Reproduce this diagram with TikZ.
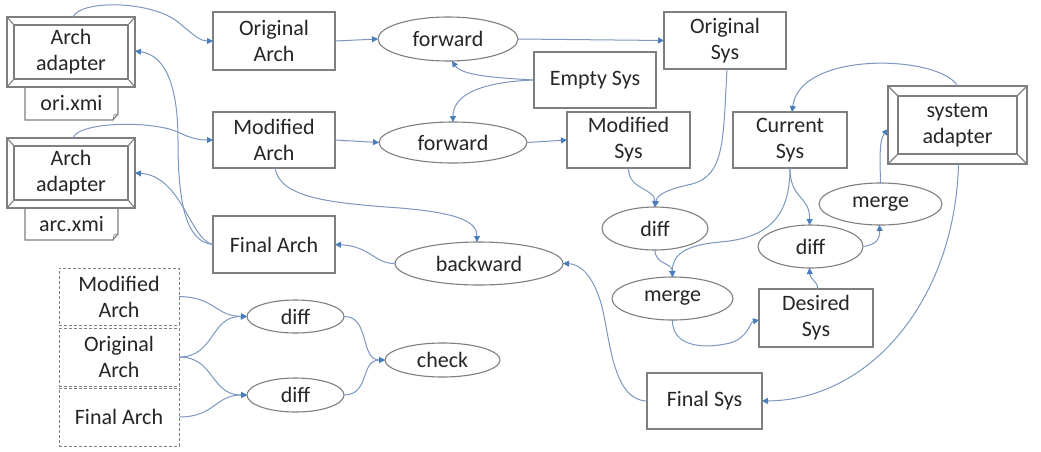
\documentclass[tikz,border=0pt]{standalone}
\usepackage{fontspec}
\setmainfont{Carlito}
\usetikzlibrary{arrows.meta,shapes.geometric}
\definecolor{boxc}{HTML}{7F7F7F}
\definecolor{linec}{HTML}{7D98C0}
\definecolor{arrowc}{HTML}{4A7EBB}
\definecolor{textc}{HTML}{262626}
\tikzset{
  base/.style={inner sep=0pt, outer sep=0pt, align=center, text=textc,
    font=\fontsize{22}{26}\selectfont},
  box/.style={base, draw=boxc, line width=1.1pt, rectangle},
  dbox/.style={base, draw=boxc, line width=1pt, rectangle, dash pattern=on 3pt off 2pt},
  ell/.style={base, draw=boxc, line width=1.1pt, ellipse},
  plain/.style={base, rectangle},
  boxline/.style={draw=boxc, line width=1.1pt},
  conn/.style={draw=linec, line width=1pt,
    -{Triangle[length=6pt,width=6pt,color=arrowc]}},
}
\newcommand\bevelbox[3]{%
  \draw[boxline] ([xshift=#2,yshift=-#3]#1.north west) rectangle ([xshift=-#2,yshift=#3]#1.south east);
  \draw[boxline] (#1.north west) -- ([xshift=#2,yshift=-#3]#1.north west)
    (#1.north east) -- ([xshift=-#2,yshift=-#3]#1.north east)
    (#1.south west) -- ([xshift=#2,yshift=#3]#1.south west)
    (#1.south east) -- ([xshift=-#2,yshift=#3]#1.south east);}
\newcommand\docshape[1]{%
  \draw[boxline] (#1.north west) -- (#1.north east) -- ([yshift=6pt]#1.south east)
    -- ([xshift=-5pt]#1.south east) -- (#1.south west) -- cycle;
  \draw[boxline, line width=0.7pt] ([xshift=-5pt]#1.south east) -- ([xshift=-4pt,yshift=5pt]#1.south east) -- ([yshift=6pt]#1.south east);}
\begin{document}
\begin{tikzpicture}[x=1pt,y=-1pt]
\fill[white] (0,0) rectangle (1041,451);
\useasboundingbox (0,0) rectangle (1041,451);
% adapters and documents
\node[box, minimum width=128, minimum height=70] (ad1) at (71,52) {Arch\\adapter};
\node[plain, minimum width=93, minimum height=33] (d1) at (71.5,103.5) {ori.xmi};
\node[box, minimum width=128, minimum height=70] (ad2) at (71,173) {Arch\\adapter};
\node[plain, minimum width=93, minimum height=32] (d2) at (71.5,224) {arc.xmi};
\bevelbox{ad1}{7pt}{8pt}
\bevelbox{ad2}{7pt}{8pt}
\docshape{d1}
\docshape{d2}
% arch column
\node[box, minimum width=122, minimum height=58] (oarch) at (274,41) {Original\\Arch};
\node[box, minimum width=122, minimum height=56] (march) at (274,140) {Modified\\Arch};
\node[box, minimum width=122, minimum height=57] (farch) at (274,244.5) {Final Arch};
% middle
\node[ell, minimum width=140, minimum height=44] (fw1) at (448,39) {forward};
\node[ell, minimum width=148, minimum height=41] (fw2) at (453,142.5) {forward};
\node[ell, minimum width=168, minimum height=43] (back) at (479,263.5) {backward};
\node[box, minimum width=122, minimum height=56] (empty) at (595,80) {Empty Sys};
\node[box, minimum width=122, minimum height=57] (osys) at (725,40.5) {Original\\Sys};
\node[box, minimum width=123, minimum height=56] (msys) at (628.5,140) {Modified\\Sys};
\node[box, minimum width=114, minimum height=56] (csys) at (790,140) {Current\\Sys};
\node[box, minimum width=139, minimum height=78] (sad) at (957.5,125) {system\\adapter};
\bevelbox{sad}{10pt}{10pt}
\node[ell, minimum width=123, minimum height=42] (mergeU) at (880.5,204) {merge};
\node[ell, minimum width=105, minimum height=43] (diffR) at (810.5,246.5) {diff};
\node[box, minimum width=114, minimum height=58] (dsys) at (816,318) {Desired\\Sys};
\node[ell, minimum width=106, minimum height=43] (diffM) at (655,228.5) {diff};
\node[ell, minimum width=121, minimum height=43] (mergeL) at (672.5,298.5) {merge};
\node[box, minimum width=115, minimum height=56] (fsys) at (704.5,401) {Final Sys};
% bottom left
\node[dbox, minimum width=120, minimum height=57] (dm) at (119,296.5) {Modified\\Arch};
\node[dbox, minimum width=120, minimum height=58] (do) at (119,357) {Original\\Arch};
\node[dbox, minimum width=120, minimum height=58] (df) at (119,417) {Final Arch};
\node[ell, minimum width=97, minimum height=33] (diff1) at (295.5,316.5) {diff};
\node[ell, minimum width=97, minimum height=34] (diff2) at (295.5,395) {diff};
\node[ell, minimum width=115, minimum height=34] (check) at (442.5,360) {check};
% connectors
\draw[conn] ([xshift=2pt]ad1.north) .. controls (80,0) and (150,0) .. (178,22) .. controls (195,36) and (200,41) .. (oarch.west);
\draw[conn] ([xshift=2pt]ad2.north) .. controls (78,122) and (150,120) .. (178,132) .. controls (192,139) and (200,140) .. (march.west);
\draw[conn] (farch.west) .. controls (185,242) and (178,200) .. (178,140) .. controls (178,85) and (165,55) .. ([yshift=1pt]ad1.east);
\draw[conn] (farch.west) .. controls (190,240) and (182,176) .. (ad2.east);
\draw[conn] (oarch.east) -- (fw1.west);
\draw[conn] (fw1.east) -- (osys.west);
\draw[conn] (empty.west) .. controls (500,78) and (462,76) .. ([xshift=4pt]fw1.south);
\draw[conn] (empty.west) .. controls (480,82) and (453,95) .. (fw2.north);
\draw[conn] (march.east) -- (fw2.west);
\draw[conn] (fw2.east) -- (msys.west);
\draw[conn] ([xshift=1pt]march.south) .. controls (280,198) and (330,203) .. (400,208) .. controls (460,213) and (477,222) .. ([xshift=-2pt]back.north);
\draw[conn] (back.west) .. controls (375,264) and (370,246) .. (farch.east);
\draw[conn] ([xshift=2pt]osys.south) .. controls (723,140) and (725,175) .. (692,184) .. controls (665,190) and (657,195) .. (diffM.north);
\draw[conn] (msys.south) .. controls (628,190) and (655,188) .. (diffM.north);
\draw[conn] (diffM.south) .. controls (655,265) and (672,262) .. (mergeL.north);
\draw[conn] (csys.south) .. controls (790,215) and (770,238) .. (720,242) .. controls (685,245) and (672,255) .. (mergeL.north);
\draw[conn] (csys.south) .. controls (790,200) and (810,195) .. ([xshift=-1pt]diffR.north);
\draw[conn] ([xshift=2pt]dsys.north) .. controls (817,280) and (810,280) .. ([xshift=-1pt]diffR.south);
\draw[conn] (mergeL.south) .. controls (672,345) and (700,350) .. (730,343) .. controls (748,338) and (750,322) .. ([yshift=-2pt]dsys.west);
\draw[conn] (diffR.east) .. controls (875,245) and (880,240) .. ([xshift=-1pt]mergeU.south);
\draw[conn] (mergeU.north) .. controls (880,160) and (879,140) .. ([yshift=-4pt]sad.west);
\draw[conn] (sad.north) .. controls (940,55) and (800,50) .. ([xshift=2pt]csys.north);
\draw[conn] ([xshift=1pt]sad.south) .. controls (955,300) and (870,400) .. (fsys.east);
\draw[conn] (fsys.west) .. controls (610,400) and (610,330) .. (600,300) .. controls (592,275) and (580,264) .. (back.east);
\draw[conn] (dm.east) .. controls (215,297) and (215,316) .. (diff1.west);
\draw[conn] (do.east) .. controls (215,357) and (210,316) .. (diff1.west);
\draw[conn] (do.east) .. controls (215,357) and (210,395) .. (diff2.west);
\draw[conn] (df.east) .. controls (215,417) and (215,395) .. (diff2.west);
\draw[conn] (diff1.east) .. controls (370,316) and (360,360) .. (check.west);
\draw[conn] (diff2.east) .. controls (370,395) and (360,360) .. (check.west);
\end{tikzpicture}
\end{document}
